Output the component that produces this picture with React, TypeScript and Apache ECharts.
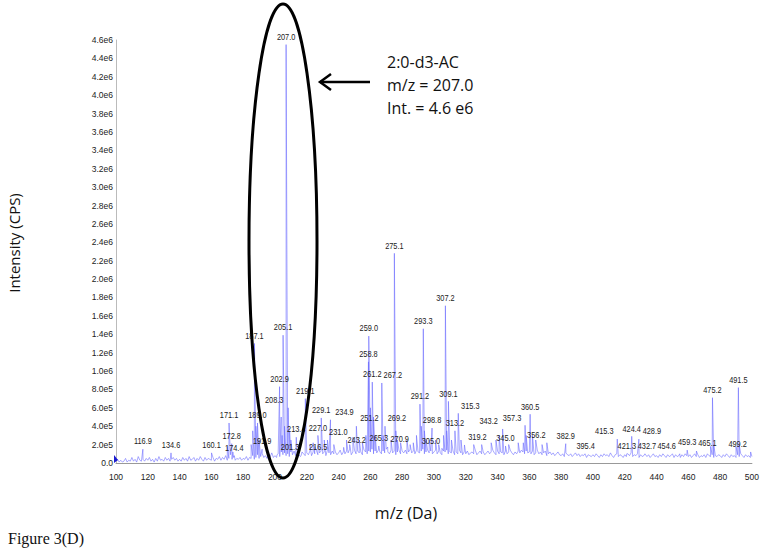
import React, { useEffect, useRef } from "react";
import * as echarts from "echarts";

// Labeled peaks (m/z, intensity in counts)
const peakMz = [116.9, 134.6, 160.1, 171.1, 172.8, 174.4, 187.1, 189.0, 191.9, 201.3, 202.9, 205.1, 207.0, 208.3, 213.4, 216.5, 219.1, 227.0, 229.1, 231.0, 234.9, 243.2, 251.2, 258.8, 259.0, 261.2, 265.3, 267.2, 269.2, 270.9, 275.1, 291.2, 293.3, 298.8, 305.0, 307.2, 309.1, 313.2, 315.3, 319.2, 343.2, 345.0, 356.2, 357.3, 360.5, 382.9, 395.4, 415.3, 421.3, 424.4, 428.9, 432.7, 454.6, 459.3, 465.1, 475.2, 491.5, 499.2];
const peakInt = [1.5e5, 1.1e5, 1.1e5, 4.35e5, 2.1e5, 0.8e5, 1.3e6, 4.35e5, 1.5e5, 0.9e5, 8.3e5, 1.39e6, 4.55e6, 6.0e5, 2.8e5, 0.85e5, 7.0e5, 3.0e5, 4.9e5, 2.5e5, 4.7e5, 1.7e5, 4.0e5, 1.1e6, 1.38e6, 8.8e5, 1.85e5, 8.7e5, 4.0e5, 1.74e5, 2.28e6, 6.4e5, 1.46e6, 3.8e5, 1.6e5, 1.71e6, 6.7e5, 3.5e5, 5.4e5, 1.96e5, 3.7e5, 1.85e5, 2.2e5, 4.1e5, 5.3e5, 2.1e5, 1.0e5, 2.6e5, 1.0e5, 2.9e5, 2.6e5, 1.0e5, 1.0e5, 1.4e5, 1.3e5, 7.1e5, 8.2e5, 1.2e5];

// Unlabeled spikes
const extraMz = [170.0, 173.5, 185.0, 186.0, 188.0, 190.0, 203.9, 204.5, 206.0, 209.2, 210.0, 222.0, 224.0, 225.0, 233.0, 237.0, 245.0, 247.0, 249.0, 253.0, 255.0, 257.2, 260.0, 262.0, 263.0, 268.0, 273.0, 276.0, 277.0, 279.0, 283.0, 285.0, 287.0, 289.0, 292.0, 294.0, 295.0, 297.0, 301.0, 303.0, 306.0, 308.0, 311.0, 317.0, 325.0, 330.0, 336.0, 339.0, 341.0, 347.0, 353.0, 358.0, 362.0, 364.0, 368.0, 371.0, 474.0, 476.0, 490.0, 492.0];
const extraInt = [1.8e5, 1.2e5, 2.0e5, 3.5e5, 4.0e5, 2.5e5, 5.0e5, 3.0e5, 4.0e5, 3.5e5, 2.5e5, 2.0e5, 2.2e5, 1.8e5, 2.5e5, 2.0e5, 2.5e5, 2.0e5, 2.8e5, 2.5e5, 2.2e5, 3.0e5, 6.0e5, 5.0e5, 3.0e5, 3.0e5, 2.5e5, 3.5e5, 2.5e5, 2.2e5, 2.5e5, 2.0e5, 2.2e5, 3.0e5, 4.0e5, 3.5e5, 2.5e5, 2.5e5, 2.5e5, 2.0e5, 3.0e5, 3.5e5, 2.5e5, 2.5e5, 2.0e5, 2.0e5, 2.2e5, 2.5e5, 3.0e5, 2.0e5, 2.2e5, 3.0e5, 3.0e5, 2.5e5, 2.0e5, 2.2e5, 1.8e5, 2.0e5, 1.8e5, 2.0e5];

// Baseline noise, one value per Da from 100 to 500 (units of 1e4 counts)
const noiseStart = 100;
const noise = [
  2, 4, 1, 3, 1, 2, 5, 1, 3, 2, 6, 2, 4, 1, 7, 3, 2, 4, 2, 5,
  3, 6, 2, 4, 1, 5, 2, 7, 3, 4, 2, 6, 3, 5, 2, 4, 6, 3, 5, 2,
  4, 2, 6, 3, 5, 2, 7, 3, 4, 6, 2, 5, 3, 7, 4, 2, 6, 3, 5, 4,
  3, 6, 2, 5, 4, 7, 3, 6, 4, 8, 3, 5, 9, 4, 6, 3, 5, 4, 6, 3,
  5, 4, 7, 3, 6, 5, 8, 4, 6, 9, 5, 7, 10, 6, 8, 5, 9, 7, 11, 6,
  8, 6, 10, 7, 12, 9, 11, 8, 10, 7, 12, 9, 13, 8, 11, 9, 7, 12, 10, 8,
  11, 9, 13, 8, 12, 10, 14, 9, 11, 13, 10, 12, 8, 14, 11, 9, 13, 10, 12, 9,
  11, 14, 9, 12, 10, 13, 11, 15, 9, 12, 14, 10, 13, 11, 12, 9, 14, 12, 10, 13,
  12, 15, 10, 13, 11, 14, 12, 10, 13, 11, 15, 12, 10, 14, 11, 13, 9, 12, 14, 10,
  13, 11, 14, 10, 12, 15, 11, 13, 10, 14, 12, 11, 13, 15, 10, 12, 14, 11, 13, 10,
  12, 14, 10, 13, 11, 9, 13, 12, 14, 10, 12, 11, 13, 9, 12, 10, 14, 11, 9, 12,
  10, 13, 9, 11, 12, 10, 14, 9, 11, 13, 10, 12, 9, 11, 13, 10, 12, 14, 11, 9,
  13, 10, 12, 11, 9, 13, 10, 12, 14, 11, 9, 12, 10, 13, 11, 14, 12, 10, 13, 11,
  12, 10, 13, 9, 11, 14, 10, 12, 9, 11, 13, 8, 10, 12, 9, 11, 8, 10, 12, 9,
  8, 10, 7, 11, 9, 8, 10, 7, 9, 11, 8, 10, 7, 9, 8, 10, 6, 9, 8, 7,
  9, 7, 10, 8, 6, 9, 7, 10, 8, 9, 7, 11, 8, 6, 9, 10, 7, 9, 8, 6,
  9, 7, 10, 8, 11, 7, 9, 8, 10, 6, 9, 7, 8, 10, 7, 9, 6, 8, 10, 7,
  8, 6, 9, 7, 10, 8, 6, 9, 7, 8, 10, 6, 9, 7, 8, 6, 9, 7, 10, 8,
  7, 9, 6, 8, 10, 7, 9, 6, 8, 7, 9, 6, 10, 8, 7, 9, 6, 8, 7, 9,
  8, 6, 9, 7, 10, 8, 6, 9, 7, 8, 6, 9, 7, 10, 8, 6, 9, 7, 8, 6,
  7,
];

const annotationLines = ["2:0-d3-AC", "m/z = 207.0", "Int. = 4.6 e6"];

// Horizontal label nudges (px) applied in the original to avoid overlaps
const labelShift: Record<string, number> = {
  "201.3": 13, "208.3": -14, "216.5": 17, "231.0": 14, "234.9": 14, "243.2": 13,
  "251.2": 13, "267.2": 11, "269.2": 12, "270.9": 12, "305.0": -11, "315.3": 12,
  "319.2": 13, "343.2": -14, "357.3": -13, "356.2": 13, "415.3": -13, "428.9": 13,
  "432.7": 2, "454.6": -13, "465.1": 11, "499.2": -13,
};

function fmtY(v: number): string {
  if (v === 0) return "0.0";
  const e = Math.floor(Math.log10(v) + 1e-9);
  const m = v / Math.pow(10, e);
  return m.toFixed(1) + "e" + e;
}

export default function App() {
  const ref = useRef<HTMLDivElement>(null);
  useEffect(() => {
    if (!ref.current) return;
    const chart = echarts.init(ref.current, null, { renderer: "svg" });

    const pts: [number, number][] = [];
    noise.forEach((v, i) => pts.push([noiseStart + i, v * 1e4]));
    peakMz.forEach((m, i) => pts.push([m, peakInt[i]]));
    extraMz.forEach((m, i) => pts.push([m, extraInt[i]]));
    pts.sort((a, b) => a[0] - b[0]);

    const font = "'Liberation Sans', Arial, sans-serif";
    const labelData = peakMz.map((m, i) => [m, peakInt[i]]);

    const option: any = {
      animation: false,
      backgroundColor: "#fff",
      grid: { left: 116, right: 9, top: 40, bottom: 86 },
      xAxis: {
        type: "value",
        min: 100,
        max: 500,
        interval: 20,
        axisLine: { show: true, lineStyle: { color: "#999", width: 1 } },
        axisTick: { show: false },
        splitLine: { show: false },
        axisLabel: { color: "#222", fontSize: 8.5, fontFamily: font, margin: 9 },
      },
      yAxis: {
        type: "value",
        min: 0,
        max: 4.6e6,
        interval: 2e5,
        axisLine: { show: true, lineStyle: { color: "#bbb", width: 1 } },
        axisTick: { show: false },
        splitLine: { show: false },
        axisLabel: { color: "#222", fontSize: 8.5, fontFamily: font, margin: 3, formatter: fmtY },
      },
      series: [
        {
          type: "line",
          data: pts,
          showSymbol: false,
          symbol: "none",
          lineStyle: { color: "rgba(100,100,255,0.7)", width: 0.8 },
          z: 2,
        },
        {
          type: "custom",
          data: labelData,
          z: 3,
          renderItem: (params: any, api: any) => {
            const m = api.value(0);
            const v = api.value(1);
            const p = api.coord([m, v]);
            const text = Number(m).toFixed(1);
            return {
              type: "text",
              x: p[0] + (labelShift[text] || 0),
              y: p[1] - 3,
              scaleX: 0.82,
              style: {
                text,
                fill: "#222",
                font: "9px " + font,
                textAlign: "center",
                textVerticalAlign: "bottom",
              },
            };
          },
        },
      ],
      graphic: [
        {
          type: "ellipse",
          shape: { cx: 283, cy: 241, rx: 34, ry: 237 },
          style: { fill: "none", stroke: "#000", lineWidth: 3 },
          z: 100,
        },
        {
          type: "line",
          shape: { x1: 370, y1: 82, x2: 320, y2: 82 },
          style: { stroke: "#000", lineWidth: 2.5 },
          z: 100,
        },
        {
          type: "polyline",
          shape: { points: [[331, 74], [320, 82], [331, 90]] },
          style: { stroke: "#000", lineWidth: 2.5, fill: "none" },
          z: 100,
        },
        ...annotationLines.map((t, i) => ({
          type: "text",
          x: 387,
          y: 62 + i * 23,
          style: {
            text: t,
            fill: "#111",
            font: "16px 'Open Sans', sans-serif",
            textVerticalAlign: "middle",
          },
          z: 100,
        })),
        {
          type: "polygon",
          shape: { points: [[114, 455], [118, 460], [114, 463]] },
          style: { fill: "#1a1ad0" },
          z: 50,
        },
        {
          type: "text",
          x: 14,
          y: 243,
          rotation: Math.PI / 2,
          style: {
            text: "Intensity (CPS)",
            fill: "#111",
            font: "15px 'Open Sans', sans-serif",
            textAlign: "center",
            textVerticalAlign: "middle",
          },
        },
        {
          type: "text",
          x: 406,
          y: 513,
          style: {
            text: "m/z (Da)",
            fill: "#111",
            font: "16px 'Open Sans', sans-serif",
            textAlign: "center",
            textVerticalAlign: "middle",
          },
        },
        {
          type: "text",
          x: 8,
          y: 538,
          style: {
            text: "Figure 3(D)",
            fill: "#111",
            font: "16px 'Liberation Serif', serif",
            textVerticalAlign: "middle",
          },
        },
      ],
    };
    chart.setOption(option);
    return () => chart.dispose();
  }, []);
  return <div ref={ref} style={{ width: 762, height: 549, position: "absolute", left: 0, top: 0 }} />;
}
